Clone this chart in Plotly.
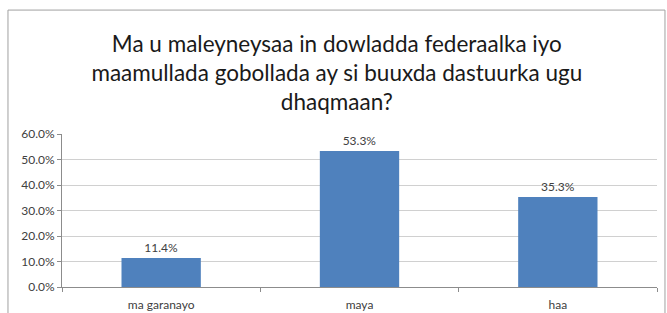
import plotly.graph_objects as go

categories = ["ma garanayo", "maya", "haa"]
values = [11.4, 53.3, 35.3]
y_ticks = [0, 10, 20, 30, 40, 50, 60]
y_tick_labels = ["0.0%", "10.0%", "20.0%", "30.0%", "40.0%", "50.0%", "60.0%"]
title_text = ("Ma u maleyneysaa in dowladda federaalka iyo<br>"
              "maamullada gobollada ay si buuxda dastuurka ugu<br>dhaqmaan?")

FONT = "Lato, Open Sans, sans-serif"

fig = go.Figure()
fig.add_trace(go.Bar(
    x=categories, y=values,
    marker=dict(color="#4F81BD", line=dict(width=0)),
    text=[f"{v:.1f}%" for v in values],
    textposition="outside",
    textfont=dict(family=FONT, size=12, color="#404040"),
    cliponaxis=False,
))

fig.update_layout(
    width=667, height=313,
    margin=dict(l=62, r=10, t=134, b=26),
    paper_bgcolor="white", plot_bgcolor="white",
    bargap=0.6,
    showlegend=False,
    title=dict(text=title_text, x=0.505, xanchor="center", y=0.835, yanchor="top",
               font=dict(family=FONT, size=22.5, color="#1a1a1a")),
    xaxis=dict(
        showline=True, linecolor="#8c8c8c", linewidth=1,
        ticks="outside", tickson="boundaries", ticklen=4, tickcolor="#8c8c8c",
        tickfont=dict(family=FONT, size=12, color="#404040"),
        ticklabelstandoff=7,
        automargin=False,
        showgrid=False,
    ),
    yaxis=dict(
        range=[0, 60], tickvals=y_ticks, ticktext=y_tick_labels,
        showline=True, linecolor="#8c8c8c", linewidth=1,
        ticks="outside", ticklen=4, tickcolor="#8c8c8c",
        showgrid=True, gridcolor="#d0d0d0", gridwidth=1,
        zeroline=False,
        automargin=False,
        tickfont=dict(family=FONT, size=12, color="#404040"),
    ),
    shapes=[
        dict(type="rect", xref="paper", yref="paper", x0=-0.0908, x1=1.0134, y0=-0.5, y1=1.81,
             line=dict(color="#a0a0a0", width=1), fillcolor="rgba(0,0,0,0)", layer="below"),
    ],
)

fig.write_html("out.html", config={"displayModeBar": False},
               post_script="document.body.style.margin='0';")
